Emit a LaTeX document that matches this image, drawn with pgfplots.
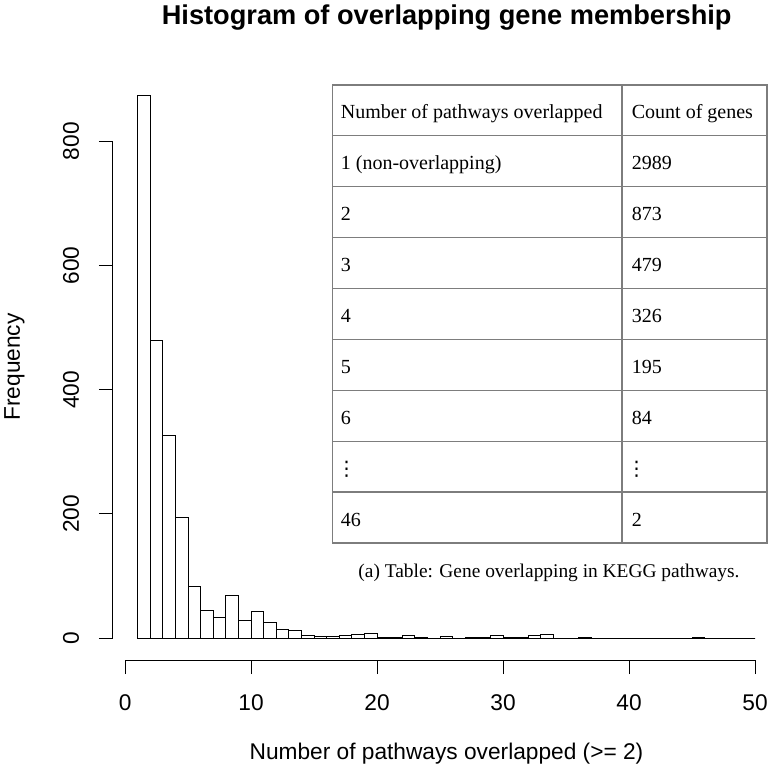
\documentclass[border=0pt]{standalone}
\usepackage{fontspec}
\setmainfont{Liberation Sans}
\newfontfamily\tabfont{Liberation Serif}
\newfontfamily\dejavu{DejaVu Sans}
\usepackage{pgfplots}
\pgfplotsset{compat=1.18}
\definecolor{tabline}{RGB}{125,125,125}
\begin{document}
\begin{tikzpicture}
\useasboundingbox (0,0) rectangle (775pt,777pt);
\begin{axis}[
  at={(113pt,117pt)}, anchor=south west, scale only axis,
  width=662pt, height=586pt,
  xmin=-0.96, xmax=51.58, ymin=-34.92, ymax=907.92,
  axis x line*=bottom, axis y line*=left,
  axis line style={line width=1pt, -},
  x axis line style={shorten <=12.1pt, shorten >=19.9pt},
  y axis line style={shorten <=21.7pt, shorten >=67.1pt},
  xtick={0,10,20,30,40,50}, ytick={0,200,400,600,800},
  tick align=outside, major tick length=14pt,
  tick style={black, line width=1pt},
  minor tick num=0,
  /pgf/number format/assume math mode=true,
  ticklabel style={font=\fontsize{22.7}{27}\selectfont},
  xticklabel style={anchor=base, yshift=-36.8pt},
  yticklabel style={rotate=90, anchor=base, yshift=20.2pt},
  xlabel={Number of pathways overlapped (>= 2)},
  ylabel={Frequency},
  label style={font=\fontsize{22.7}{27}\selectfont},
  xlabel style={at={(axis description cs:0.5038,-0.1706)}, anchor=base},
  ylabel style={at={(axis description cs:-0.1405,0.5)}, anchor=base, rotate=0},
  clip=false,
]
\addplot[ybar interval, fill=white, draw=black, line width=1pt] coordinates {
(1,873) (2,479) (3,326) (4,195) (5,84) (6,44) (7,34) (8,69) (9,28) (10,43)
(11,26) (12,14) (13,13) (14,5) (15,3) (16,3) (17,5) (18,6) (19,8) (20,2)
(21,2) (22,4) (23,1) (24,0) (25,3) (26,0) (27,1) (28,2) (29,4) (30,1)
(31,1) (32,4) (33,6) (34,0) (35,0) (36,2) (37,0) (38,0) (39,0) (40,0)
(41,0) (42,0) (43,0) (44,0) (45,2) (46,0) (47,0) (48,0) (49,0) (50,0)
};
\end{axis}
\begin{scope}[x=1pt, y=-1pt, shift={(0pt,777pt)}]
  % title
  \node[anchor=base, font=\fontsize{27.2}{32}\selectfont\bfseries] at (446.7,25) {Histogram of overlapping gene membership};
  % table
  \draw[tabline, line width=1.6pt] (332.3,85) rectangle (766.7,543.3);
  \draw[tabline, line width=1.6pt] (621.7,85) -- (621.7,543.3);
  \foreach \yy in {135.5,186.5,237.5,288.4,339.4,390.4,441.4,492.3}
    \draw[tabline, line width=1.6pt] (332.3,\yy) -- (766.7,\yy);
  \begin{scope}[every node/.style={anchor=base west, inner sep=0pt, font=\tabfont\fontsize{20}{24}\selectfont}]
    \node at (340.7,118.3) {Number of pathways overlapped};
    \node at (631.7,118.3) {Count of genes};
    \node at (340.7,169.3) {1 (non-overlapping)};
    \node at (631.7,169.3) {2989};
    \node at (340.7,220.3) {2};
    \node at (631.7,220.3) {873};
    \node at (340.7,271.3) {3};
    \node at (631.7,271.3) {479};
    \node at (340.7,322.2) {4};
    \node at (631.7,322.2) {326};
    \node at (340.7,373.2) {5};
    \node at (631.7,373.2) {195};
    \node at (340.7,424.2) {6};
    \node at (631.7,424.2) {84};
    \node[font=\dejavu\fontsize{20}{22}\selectfont] at (336.5,476) {⋮};
    \node[font=\dejavu\fontsize{20}{22}\selectfont] at (626.5,476) {⋮};
    \node at (340.7,526.1) {46};
    \node at (631.7,526.1) {2};
  \end{scope}
  \node[anchor=base, inner sep=0pt, font=\tabfont\fontsize{19.4}{23}\selectfont] at (549,578) {(a) Table: Gene overlapping in KEGG pathways.};
\end{scope}
\end{tikzpicture}
\end{document}
